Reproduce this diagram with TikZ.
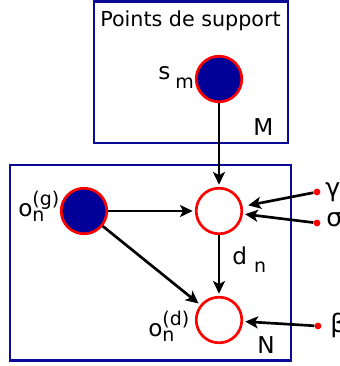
\documentclass[tikz,border=0pt]{standalone}
\usepackage{fontspec}
\setmainfont{DejaVu Sans}
\usetikzlibrary{arrows.meta}
\definecolor{platedark}{HTML}{0A0A96}
\definecolor{nodefill}{HTML}{000099}
\definecolor{nodeedge}{HTML}{FF0000}
\newcommand{\scriptlabel}{\fontsize{13.5}{15}\selectfont}
\newcommand{\labsupsub}[3]{#1\rlap{\raisebox{8.5pt}{\scriptlabel #2}}%
  \raisebox{-3.5pt}{\scriptlabel #3}}
\newcommand{\labsub}[4]{#1\hspace{#3}\raisebox{-#4}{\scriptlabel #2}}

\begin{document}
\begin{tikzpicture}[
  platepanel/.style={draw=platedark,line width=2.1pt},
  varnode/.style={circle,draw=nodeedge,fill=white,line width=1.9pt,
    minimum size=11.4mm,inner sep=0pt},
  obsnode/.style={varnode,fill=nodefill},
  paramdot/.style={circle,fill=nodeedge,inner sep=0pt,minimum size=1.7mm},
  edgeflow/.style={-{Stealth[length=3.2mm,width=3mm,inset=0.8mm]},
    line width=1.9pt,shorten >=1.5pt},
  varlabel/.style={font=\fontsize{16.5}{19}\selectfont,inner sep=0pt,
    anchor=base west},
  greeklabel/.style={varlabel,font=\fontsize{18}{21}\selectfont},
  platetitle/.style={varlabel,font=\fontsize{14.7}{17}\selectfont}
]
  \useasboundingbox (0,0) rectangle (8.5,9.15);
  \draw[platepanel] (2.35,5.575) rectangle (7.2,9.115);
  \node[platetitle] (suptitle) at (2.5,8.475) {Points de support};
  \node[obsnode] (sm) at (5.475,7.175) {};
  \node[varlabel] (smlabel) at (3.95,7.15) {\labsub{s}{m}{3.5pt}{6.4pt}};
  \node[varlabel] (mlabel) at (6.325,5.75) {M};

  \draw[platepanel] (0.25,0.135) rectangle (7.275,5.025);
  \node[obsnode] (og) at (2.1,3.875) {};
  \node[varnode] (dn) at (5.475,3.875) {};
  \node[varnode] (od) at (5.475,1.15) {};
  \node[varlabel] (oglabel) at (0.45,3.725) {\labsupsub{o}{(g)}{n}};
  \node[varlabel] (odlabel) at (3.7,0.725) {\labsupsub{o}{(d)}{n}};
  \node[varlabel] (dnlabel) at (5.8,2.525) {\labsub{d}{n}{5pt}{5pt}};
  \node[varlabel] (nlabel) at (6.425,0.3) {N};

  \node[paramdot] (gammadot) at (7.925,4.35) {};
  \node[paramdot] (sigmadot) at (7.925,3.575) {};
  \node[paramdot] (betadot) at (7.95,1.0) {};
  \node[greeklabel] (gammalabel) at (8.125,4.225) {γ};
  \node[greeklabel] (sigmalabel) at (8.15,3.475) {σ};
  \node[greeklabel] (betalabel) at (8.25,0.825) {β};

  \draw[edgeflow] (sm) -- (dn);
  \draw[edgeflow] (og) -- (dn);
  \draw[edgeflow] (og) -- (od);
  \draw[edgeflow] (dn) -- (od);
  \draw[edgeflow,shorten >=4pt] (gammadot) -- (dn);
  \draw[edgeflow] (sigmadot) -- (dn);
  \draw[edgeflow] (betadot) -- (od);
\end{tikzpicture}
\end{document}
